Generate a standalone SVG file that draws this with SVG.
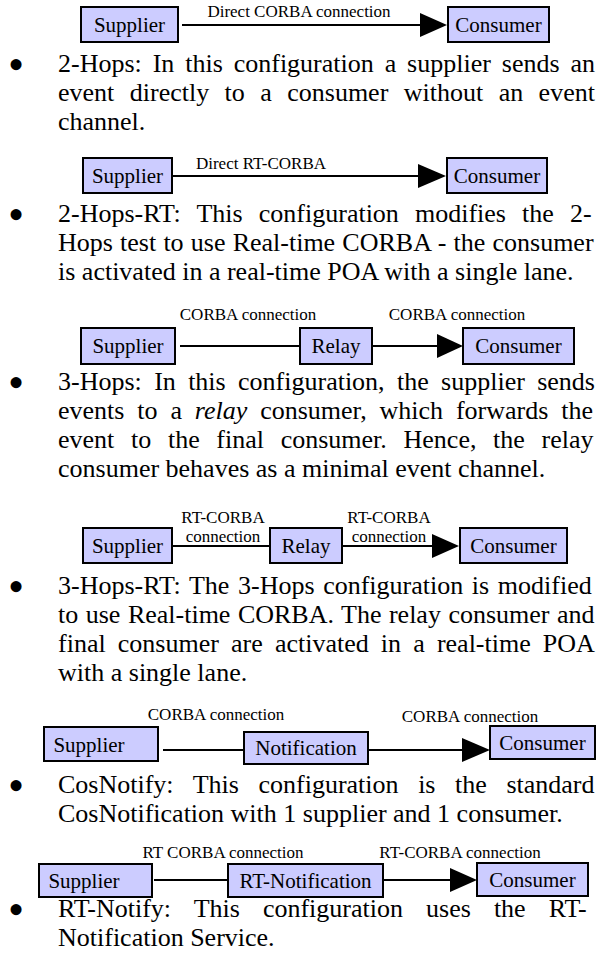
<svg xmlns="http://www.w3.org/2000/svg" width="614" height="963" viewBox="0 0 614 963">
<style>
.box{fill:#ccccff;stroke:#000;stroke-width:2}
.bl{font-family:"Liberation Serif",serif;font-size:21px;text-anchor:middle;fill:#000}
.cl{font-family:"Liberation Serif",serif;font-size:17px;text-anchor:middle;fill:#000}
.ln{stroke:#000;stroke-width:2;fill:none}
.ah{fill:#000}
.tx{font-family:"Liberation Serif",serif;font-size:26px;fill:#000}
.bu{font-family:"Liberation Serif",serif;font-size:46px;text-anchor:middle;fill:#000}
</style>
<rect width="614" height="963" fill="#fff"/>

<g id="d1">
<g id="d1-supplier"><rect class="box" x="81" y="7" width="97" height="35"/><text class="bl" x="129.5" y="32">Supplier</text></g>
<g id="d1-consumer"><rect class="box" x="448" y="7" width="101" height="35"/><text class="bl" x="498.5" y="32">Consumer</text></g>
<g id="d1-connectors"><line class="ln" x1="182" y1="25" x2="422" y2="25"/><polygon class="ah" points="420,13 447,25 420,37"/><text class="cl" x="299" y="17">Direct CORBA connection</text></g>
</g>

<g id="d2">
<g id="d2-supplier"><rect class="box" x="83" y="158" width="89" height="35"/><text class="bl" x="127.5" y="183">Supplier</text></g>
<g id="d2-consumer"><rect class="box" x="447" y="158" width="100" height="35"/><text class="bl" x="497" y="183">Consumer</text></g>
<g id="d2-connectors"><line class="ln" x1="172" y1="176" x2="420" y2="176"/><polygon class="ah" points="418,164 446,176 418,188"/><text class="cl" x="261" y="169">Direct RT-CORBA</text></g>
</g>

<g id="d3">
<g id="d3-supplier"><rect class="box" x="81" y="328" width="94" height="36"/><text class="bl" x="128" y="353">Supplier</text></g>
<g id="d3-relay"><rect class="box" x="300" y="328" width="72" height="36"/><text class="bl" x="336" y="353">Relay</text></g>
<g id="d3-consumer"><rect class="box" x="463" y="328" width="111" height="36"/><text class="bl" x="518.5" y="353">Consumer</text></g>
<g id="d3-connectors"><line class="ln" x1="180" y1="346" x2="300" y2="346"/><line class="ln" x1="372" y1="346" x2="439" y2="346"/><polygon class="ah" points="437,334 463,346 437,358"/><text class="cl" x="248" y="320">CORBA connection</text><text class="cl" x="457" y="320">CORBA connection</text></g>
</g>

<g id="d4">
<g id="d4-supplier"><rect class="box" x="83" y="528" width="89" height="35"/><text class="bl" x="127.5" y="553">Supplier</text></g>
<g id="d4-relay"><rect class="box" x="270" y="528" width="72" height="35"/><text class="bl" x="306" y="553">Relay</text></g>
<g id="d4-consumer"><rect class="box" x="460" y="528" width="107" height="35"/><text class="bl" x="513.5" y="553">Consumer</text></g>
<g id="d4-connectors"><line class="ln" x1="172" y1="546" x2="270" y2="546"/><line class="ln" x1="342" y1="546" x2="434" y2="546"/><polygon class="ah" points="432,534 459,546 432,558"/>
<text class="cl" x="223" y="523">RT-CORBA</text><text class="cl" x="223" y="542">connection</text>
<text class="cl" x="389" y="523">RT-CORBA</text><text class="cl" x="389" y="542">connection</text></g>
</g>

<g id="d5">
<g id="d5-supplier"><rect class="box" x="44" y="727" width="114" height="34"/><text class="bl" x="89" y="752">Supplier</text></g>
<g id="d5-notification"><rect class="box" x="244" y="732" width="124" height="32"/><text class="bl" x="306" y="755">Notification</text></g>
<g id="d5-consumer"><rect class="box" x="490" y="726" width="105" height="33"/><text class="bl" x="542.5" y="750">Consumer</text></g>
<g id="d5-connectors"><line class="ln" x1="163" y1="750" x2="244" y2="750"/><line class="ln" x1="368" y1="750" x2="464" y2="750"/><polygon class="ah" points="462,738 490,750 462,762"/><text class="cl" x="216" y="720">CORBA connection</text><text class="cl" x="470" y="722">CORBA connection</text></g>
</g>

<g id="d6">
<g id="d6-supplier"><rect class="box" x="39" y="864" width="113" height="33"/><text class="bl" x="84" y="888">Supplier</text></g>
<g id="d6-rtnotification"><rect class="box" x="228" y="864" width="155" height="33"/><text class="bl" x="305.5" y="888">RT-Notification</text></g>
<g id="d6-consumer"><rect class="box" x="477" y="863" width="111" height="33"/><text class="bl" x="532.5" y="887">Consumer</text></g>
<g id="d6-connectors"><line class="ln" x1="154" y1="880" x2="228" y2="880"/><line class="ln" x1="383" y1="880" x2="452" y2="880"/><polygon class="ah" points="450,868 477,880 450,892"/><text class="cl" x="223" y="858">RT CORBA connection</text><text class="cl" x="460" y="858">RT-CORBA connection</text></g>
</g>

<g id="body">
<text class="bu" x="16" y="80">•</text>
<text class="tx" x="58" y="72" word-spacing="4.4">2-Hops: In this configuration a supplier sends an</text>
<text class="tx" x="58" y="101" word-spacing="8.94">event directly to a consumer without an event</text>
<text class="tx" x="58" y="130">channel.</text>

<text class="bu" x="16" y="230">•</text>
<text class="tx" x="58" y="222" word-spacing="9.62">2-Hops-RT: This configuration modifies the 2-</text>
<text class="tx" x="58" y="251" word-spacing="0.69">Hops test to use Real-time CORBA - the consumer</text>
<text class="tx" x="58" y="280">is activated in a real-time POA with a single lane.</text>

<text class="bu" x="16" y="398">•</text>
<text class="tx" x="58" y="390" word-spacing="5.85">3-Hops: In this configuration, the supplier sends</text>
<text class="tx" x="58" y="419" word-spacing="6.37">events to a <tspan font-style="italic">relay</tspan> consumer, which forwards the</text>
<text class="tx" x="58" y="448" word-spacing="10.19">event to the final consumer. Hence, the relay</text>
<text class="tx" x="58" y="477">consumer behaves as a minimal event channel.</text>

<text class="bu" x="16" y="602">•</text>
<text class="tx" x="58" y="594" word-spacing="2.12">3-Hops-RT: The 3-Hops configuration is modified</text>
<text class="tx" x="58" y="623" word-spacing="1">to use Real-time CORBA. The relay consumer and</text>
<text class="tx" x="58" y="652" word-spacing="5.64">final consumer are activated in a real-time POA</text>
<text class="tx" x="58" y="681">with a single lane.</text>

<text class="bu" x="16" y="801">•</text>
<text class="tx" x="58" y="793" word-spacing="13.08">CosNotify: This configuration is the standard</text>
<text class="tx" x="58" y="822">CosNotification with 1 supplier and 1 consumer.</text>

<text class="bu" x="16" y="925">•</text>
<text class="tx" x="58" y="917" word-spacing="16.56">RT-Notify: This configuration uses the RT-</text>
<text class="tx" x="58" y="946">Notification Service.</text>
</g>
</svg>
